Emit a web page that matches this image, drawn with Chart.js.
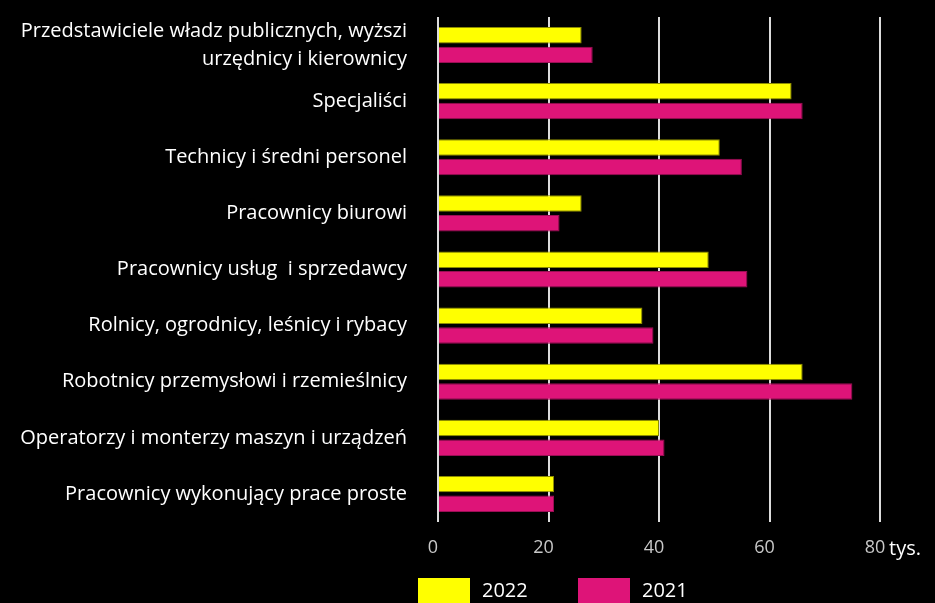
<!DOCTYPE html>
<html>
<head>
<meta charset="utf-8">
<script src="https://cdn.jsdelivr.net/npm/chart.js@4.4.0/dist/chart.umd.min.js"></script>
<style>
  html, body { margin: 0; padding: 0; background: #000; }
  #wrap { width: 935px; height: 603px; position: relative; }
</style>
</head>
<body>
<div id="wrap"><canvas id="barChart" width="935" height="603"></canvas></div>
<script>
const categories = [
  ['Przedstawiciele władz publicznych, wyższi', 'urzędnicy i kierownicy'],
  'Specjaliści',
  'Technicy i średni personel',
  'Pracownicy biurowi',
  'Pracownicy usług  i sprzedawcy',
  'Rolnicy, ogrodnicy, leśnicy i rybacy',
  'Robotnicy przemysłowi i rzemieślnicy',
  'Operatorzy i monterzy maszyn i urządzeń',
  'Pracownicy wykonujący prace proste'
];
const values2022 = [26, 64, 51, 26, 49, 37, 66, 40, 21];
const values2021 = [28, 66, 55, 22, 56, 39, 75, 41, 21];
const xTicks = [0, 20, 40, 60, 80];
const unitLabel = 'tys.';

const FONT = "'Open Sans', 'Noto Sans', sans-serif";

// unit text next to the x axis + custom legend under it
const extrasPlugin = {
  id: 'extras',
  afterDraw(chart) {
    const ctx = chart.ctx;
    ctx.save();
    ctx.fillStyle = '#ffffff';
    ctx.font = '20px ' + FONT;
    ctx.textBaseline = 'middle';
    ctx.textAlign = 'left';
    ctx.fillText(unitLabel, 889, 549);

    let lx = 418;
    chart.data.datasets.forEach(ds => {
      ctx.fillStyle = ds.backgroundColor;
      ctx.fillRect(lx, 578, 52, 26);
      ctx.fillStyle = '#ffffff';
      ctx.fillText(ds.label, lx + 64, 591);
      lx += 160;
    });
    ctx.restore();
  }
};

new Chart(document.getElementById('barChart').getContext('2d'), {
  type: 'bar',
  data: {
    labels: categories,
    datasets: [
      { label: '2022', data: values2022, backgroundColor: '#ffff00', borderColor: '#8c8c00', borderWidth: 1 },
      { label: '2021', data: values2021, backgroundColor: '#de1478', borderColor: '#9a0e54', borderWidth: 1 }
    ]
  },
  options: {
    indexAxis: 'y',
    responsive: false,
    animation: false,
    categoryPercentage: 0.7,
    barPercentage: 0.84,
    layout: { padding: { top: 17, right: 55, left: 0, bottom: 0 } },
    plugins: { legend: { display: false }, tooltip: { enabled: false } },
    scales: {
      x: {
        min: 0,
        max: 80,
        afterBuildTicks(scale) { scale.ticks = xTicks.map(v => ({ value: v })); },
        afterFit(scale) { scale.height = 81; scale.paddingLeft = 0; scale.paddingRight = 0; },
        grid: { color: '#dcdcdc', lineWidth: 2, drawTicks: false },
        border: { display: false },
        ticks: { color: '#c8c8c8', padding: 15, labelOffset: -5, font: { family: FONT, size: 18 } }
      },
      y: {
        afterFit(scale) { scale.width = 438; scale.paddingTop = 0; scale.paddingBottom = 0; },
        grid: { display: false, drawTicks: false },
        border: { display: false },
        ticks: { color: '#ffffff', padding: 31, autoSkip: false, font: { family: FONT, size: 20, lineHeight: 1.4 } }
      }
    }
  },
  plugins: [extrasPlugin]
});
</script>
</body>
</html>
